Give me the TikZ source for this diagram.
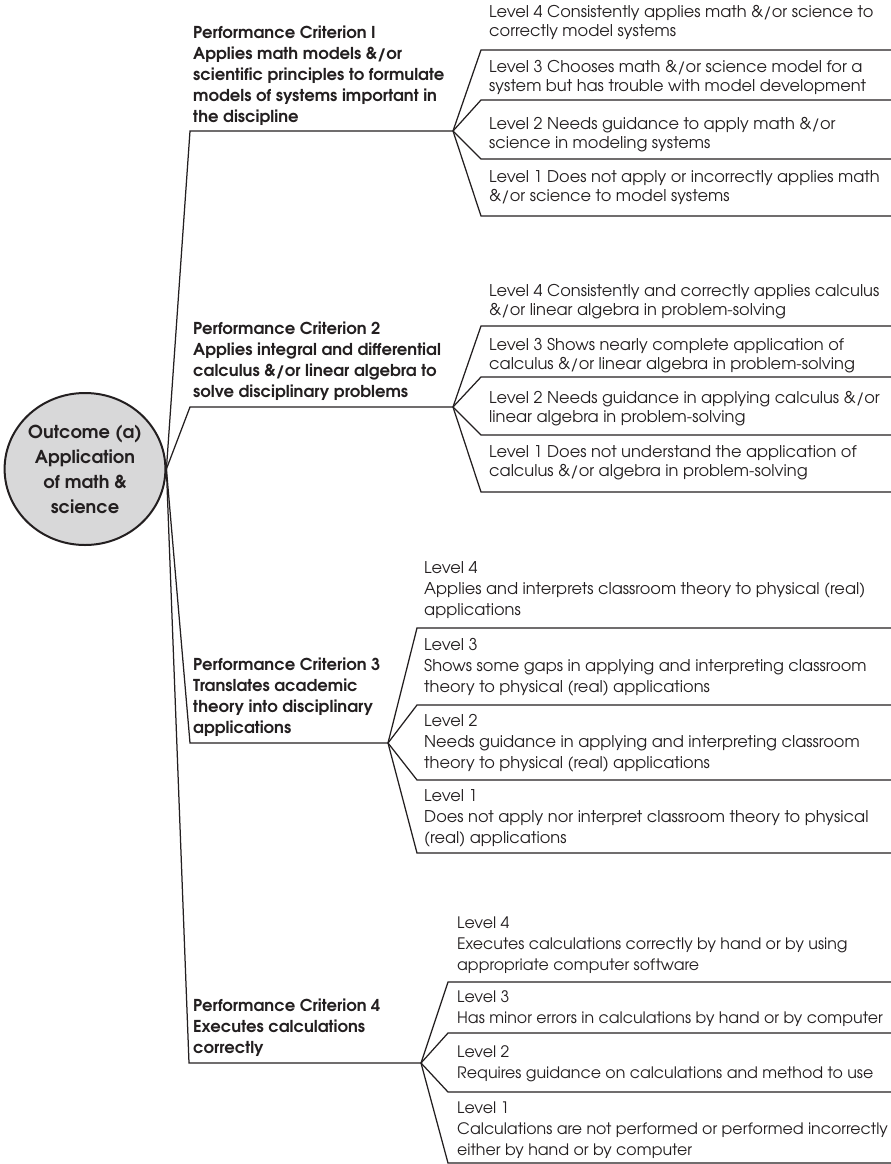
\documentclass[tikz,border=0pt]{standalone}
\usepackage{fontspec}
\setmainfont{TeX Gyre Adventor}
\usetikzlibrary{shapes.geometric}
\definecolor{ink}{HTML}{231F20}
\definecolor{bubble}{RGB}{216,216,217}
\tikzset{
  rule/.style={draw=ink, line width=1.25pt},
  % multi-line texts are placed by the baseline of their last line
  crit/.style={anchor=base west, align=left, inner sep=0pt, text=ink,
    font=\bfseries\fontsize{16.4}{21}\selectfont},
  lvl/.style={anchor=base west, align=left, inner sep=0pt, text=ink,
    font=\fontsize{16.2}{19}\selectfont},
  lvlw/.style={lvl, font=\fontsize{16.2}{21}\selectfont},
  lvln/.style={lvl, font=\fontsize{15.8}{21}\selectfont},
  outcome/.style={ellipse, draw=ink, line width=2pt, fill=bubble,
    minimum width=160pt, minimum height=152pt, inner sep=0pt, align=center,
    text=ink, font=\bfseries\fontsize{17.8}{25}\selectfont},
}
\begin{document}
\begin{tikzpicture}[x=1pt,y=-1pt]
\useasboundingbox (0,0) rectangle (891,1164);

% central outcome
\node[outcome] (root) at (85,469) {Outcome (a)\\Application\\of math \&\\science};

% performance criteria
\node[crit] (c1) at (193,122) {Performance Criterion I\\Applies math models \&/or\\scientific principles to formulate\\models of systems important in\\the discipline};
\node[crit] (c2) at (193,397) {Performance Criterion 2\\Applies integral and differential\\calculus \&/or linear algebra to\\solve disciplinary problems};
\node[crit] (c3) at (193,733) {Performance Criterion 3\\Translates academic\\theory into disciplinary\\applications};
\node[crit] (c4) at (193,1053) {Performance Criterion 4\\Executes calculations\\correctly};

% underline ends of each criterion
\coordinate (c1s) at (190,131);  \coordinate (c1f) at (453,131);
\coordinate (c2s) at (190,407);  \coordinate (c2f) at (453,407);
\coordinate (c3s) at (190,743);  \coordinate (c3f) at (388,743);
\coordinate (c4s) at (189,1063); \coordinate (c4f) at (421,1063);

\foreach \c in {c1,c2,c3,c4}
  \draw[rule] (root.east) -- (\c s) -- (\c f);

% level rules: criterion, left x, list of y
\foreach \c/\x/\ys in {c1/481/{50,100,159,216}, c2/481/{326,377,435,492},
                       c3/417/{628,705,780,853}, c4/448/{982,1033,1092,1163}} {
  \foreach \y [count=\i] in \ys {
    \coordinate (\c r\i) at (\x,\y);
    \coordinate (\c e\i) at (891,\y);
    \draw[rule] (\c f) -- (\c r\i) -- (\c e\i);
  }
}

% levels of criterion 1
\node[lvl] (c1l4) at (489,37) {Level 4 Consistently applies math \&/or science to\\correctly model systems};
\node[lvl] (c1l3) at (489,92) {Level 3 Chooses math \&/or science model for a\\system but has trouble with model development};
\node[lvl] (c1l2) at (489,148) {Level 2 Needs guidance to apply math \&/or\\science in modeling systems};
\node[lvl] (c1l1) at (489,201) {Level 1 Does not apply or incorrectly applies math\\\&/or science to model systems};

% levels of criterion 2
\node[lvl] (c2l4) at (489,315) {Level 4 Consistently and correctly applies calculus\\\&/or linear algebra in problem-solving};
\node[lvl] (c2l3) at (489,369) {Level 3 Shows nearly complete application of\\calculus \&/or linear algebra in problem-solving};
\node[lvl] (c2l2) at (489,422) {Level 2 Needs guidance in applying calculus \&/or\\linear algebra in problem-solving};
\node[lvl] (c2l1) at (489,476) {Level 1 Does not understand the application of\\calculus \&/or algebra in problem-solving};

% levels of criterion 3
\node[lvlw] (c3l4) at (424,615) {Level 4\\Applies and interprets classroom theory to physical (real)\\applications};
\node[lvlw] (c3l3) at (424,692) {Level 3\\Shows some gaps in applying and interpreting classroom\\theory to physical (real) applications};
\node[lvlw] (c3l2) at (424,768) {Level 2\\Needs guidance in applying and interpreting classroom\\theory to physical (real) applications};
\node[lvlw] (c3l1) at (424,843) {Level 1\\Does not apply nor interpret classroom theory to physical\\(real) applications};

% levels of criterion 4
\node[lvln] (c4l4) at (457,970) {Level 4\\Executes calculations correctly by hand or by using\\appropriate computer software};
\node[lvln] (c4l3) at (457,1023) {Level 3\\Has minor errors in calculations by hand or by computer};
\node[lvln] (c4l2) at (457,1078) {Level 2\\Requires guidance on calculations and method to use};
\node[lvln] (c4l1) at (457,1155) {Level 1\\Calculations are not performed or performed incorrectly\\either by hand or by computer};
\end{tikzpicture}
\end{document}
